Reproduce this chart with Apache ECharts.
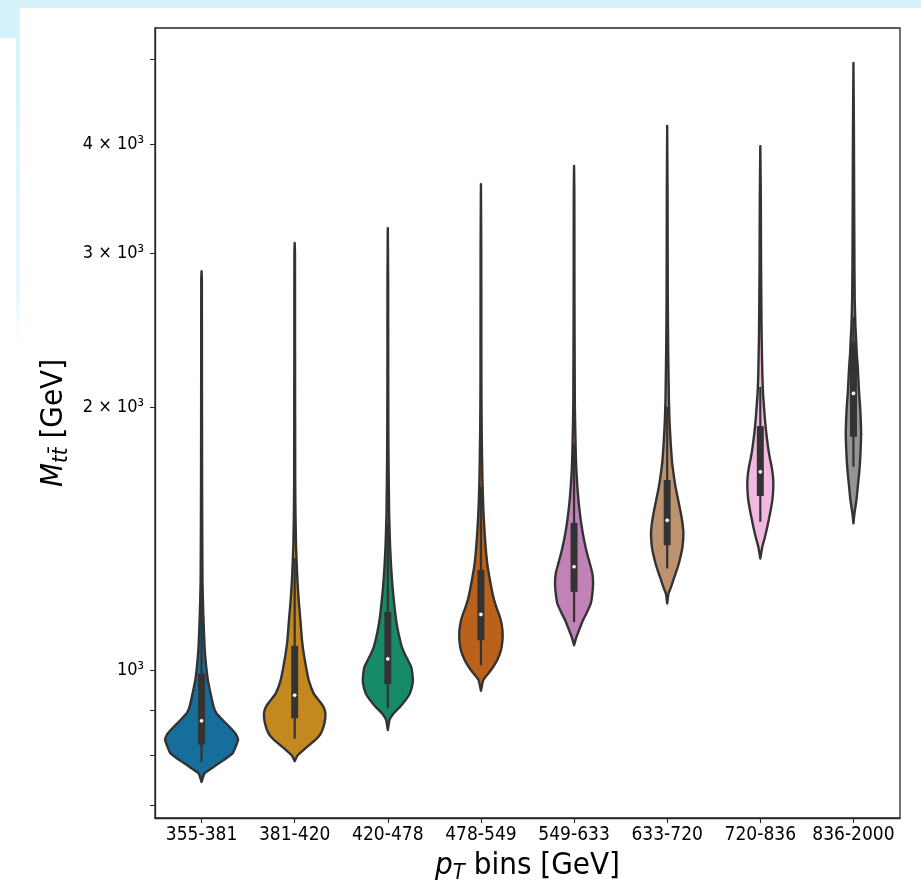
<!DOCTYPE html>
<html>
<head>
<meta charset="utf-8">
<script src="https://cdn.jsdelivr.net/npm/echarts@6/dist/echarts.min.js"></script>
<style>
html,body{margin:0;padding:0;background:#fff;}
#chart{width:921px;height:890px;}
</style>
</head>
<body>
<div id="chart"></div>
<script>
// ---- data ----
const categories = ['355-381','381-420','420-478','478-549','549-633','633-720','720-836','836-2000'];
const fillColors = ['#176d9c','#c38820','#168b6a','#ba611b','#c182b5','#bd926e','#f1b8e0','#949494'];

// box statistics (GeV)
const q1 = [822, 881, 964, 1082, 1229, 1390, 1582, 1849];
const medians = [875, 936, 1030, 1158, 1313, 1484, 1686, 2073];
const q3 = [991, 1066, 1166, 1302, 1474, 1650, 1902, 2375];
const whiskerLow = [785, 835, 904, 1013, 1135, 1307, 1478, 1709];
const whiskerHigh = [1246, 1343, 1469, 1621, 1818, 2001, 2109, 2537];

// density profiles: [M_tt value (GeV), relative density]
const profile1 = [[745,0],[762,0.081],[775,0.323],[789,0.591],[803,0.833],[817,0.914],[833,0.981],[846,0.914],[861,0.753],[877,0.565],[892,0.403],[908,0.323],[932,0.261],[974,0.169],[1018,0.116],[1063,0.081],[1161,0.046],[1268,0.024],[1650,0.014],[2200,0.010],[2800,0.008],[2860,0]];
const profile2 = [[787,0],[799,0.081],[817,0.331],[832,0.556],[846,0.699],[869,0.798],[892,0.825],[908,0.772],[924,0.645],[940,0.511],[974,0.376],[1009,0.304],[1045,0.242],[1082,0.196],[1141,0.153],[1202,0.108],[1268,0.073],[1384,0.037],[1512,0.021],[1650,0.014],[2300,0.010],[3000,0.008],[3081,0]];
const profile3 = [[854,0],[877,0.046],[892,0.153],[908,0.331],[924,0.476],[940,0.591],[966,0.667],[983,0.667],[1009,0.626],[1027,0.538],[1045,0.449],[1063,0.376],[1101,0.288],[1141,0.223],[1181,0.180],[1246,0.126],[1313,0.089],[1384,0.062],[1511,0.035],[1801,0.016],[2147,0.011],[2800,0.009],[3204,0]];
const profile4 = [[947,0],[974,0.062],[991,0.196],[1009,0.331],[1027,0.438],[1054,0.538],[1082,0.578],[1111,0.578],[1141,0.532],[1161,0.476],[1181,0.411],[1213,0.331],[1268,0.242],[1325,0.169],[1384,0.126],[1459,0.089],[1538,0.062],[1650,0.040],[1882,0.020],[2147,0.012],[3000,0.009],[3598,0]];
const profile5 = [[1068,0],[1088,0.054],[1111,0.134],[1141,0.242],[1161,0.331],[1192,0.449],[1224,0.492],[1257,0.511],[1290,0.492],[1325,0.422],[1360,0.349],[1396,0.288],[1434,0.234],[1484,0.180],[1552,0.126],[1621,0.089],[1694,0.062],[1770,0.046],[1932,0.027],[2037,0.020],[2650,0.011],[3500,0.008],[3773,0]];
const profile6 = [[1192,0],[1224,0.035],[1246,0.108],[1279,0.196],[1313,0.288],[1348,0.358],[1384,0.411],[1434,0.435],[1472,0.411],[1511,0.368],[1565,0.296],[1621,0.223],[1679,0.169],[1739,0.126],[1833,0.089],[1932,0.062],[2037,0.046],[2323,0.027],[2650,0.016],[3500,0.010],[4193,0]];
const profile7 = [[1342,0],[1384,0.054],[1421,0.126],[1459,0.188],[1511,0.261],[1565,0.323],[1621,0.349],[1664,0.341],[1709,0.304],[1754,0.250],[1801,0.207],[1866,0.161],[1932,0.126],[2001,0.099],[2073,0.073],[2185,0.054],[2428,0.035],[2894,0.020],[3450,0.014],[3977,0]];
const profile8 = [[1472,0],[1511,0.027],[1565,0.081],[1621,0.116],[1679,0.153],[1739,0.180],[1801,0.196],[1866,0.207],[1932,0.196],[2001,0.180],[2073,0.153],[2147,0.134],[2223,0.116],[2303,0.089],[2385,0.073],[2471,0.054],[2650,0.035],[2894,0.027],[3450,0.019],[4200,0.012],[4949,0]];
const profiles = [profile1, profile2, profile3, profile4, profile5, profile6, profile7, profile8];

// y axis ticks
const yTickValues = [700, 800, 900, 1000, 2000, 3000, 4000, 5000];
const yLabelValues = [1000, 2000, 3000, 4000];
const yLabelTexts = ['10³', '2 × 10³', '3 × 10³', '4 × 10³'];
const yMin = 677.4, yMax = 5428;

// ---- font choice (narrow glyphs like the reference if available) ----
function hasFont(name) {
  const c = document.createElement('canvas').getContext('2d');
  const t = '355-381 bins [GeV] 0123456789';
  c.font = '40px monospace';
  const w1 = c.measureText(t).width;
  c.font = "40px '" + name + "', monospace";
  const w2 = c.measureText(t).width;
  return Math.abs(w1 - w2) > 0.5;
}
const COND = hasFont('DejaVu Sans Condensed');
const FONT = COND ? "'DejaVu Sans Condensed', 'DejaVu Sans', sans-serif" : "'DejaVu Sans', sans-serif";
const TICK_FS = COND ? 19 : 17;
const YTICK_FS = COND ? 18 : 16.5;
const TITLE_FS = COND ? 31 : 28;
const SUB_FS = Math.round(TITLE_FS * 0.7);

// ---- chart ----
const chart = echarts.init(document.getElementById('chart'), null, {renderer: 'canvas'});
const OUTLINE = '#333333';

function renderViolin(params, api) {
  const i = api.value(0);
  const prof = profiles[i];
  const band = api.size([1, 0])[0];
  const half = 0.4 * band;
  const cx = api.coord([i, medians[i]])[0];
  const right = [], left = [];
  for (let k = 0; k < prof.length; k++) {
    const y = api.coord([i, prof[k][0]])[1];
    right.push([cx + prof[k][1] * half, y]);
    left.push([cx - prof[k][1] * half, y]);
  }
  const pts = right.concat(left.reverse());
  const yQ1 = api.coord([i, q1[i]])[1];
  const yQ3 = api.coord([i, q3[i]])[1];
  const yLo = api.coord([i, whiskerLow[i]])[1];
  const yHi = api.coord([i, whiskerHigh[i]])[1];
  const yMed = api.coord([i, medians[i]])[1];
  return {
    type: 'group',
    children: [
      {type: 'polygon', shape: {points: pts, smooth: 0.15},
       style: {fill: fillColors[i], stroke: OUTLINE, lineWidth: 2.4, lineJoin: 'round'}},
      {type: 'line', shape: {x1: cx, y1: yLo, x2: cx, y2: yHi},
       style: {stroke: OUTLINE, lineWidth: 2.2}},
      {type: 'rect', shape: {x: cx - 3.5, y: yQ3, width: 7, height: yQ1 - yQ3},
       style: {fill: OUTLINE}},
      {type: 'circle', shape: {cx: cx, cy: yMed, r: 2.1},
       style: {fill: '#ffffff', stroke: OUTLINE, lineWidth: 0.5}}
    ]
  };
}

const nameRich = {
  it: {fontSize: TITLE_FS, fontStyle: 'italic', fontFamily: FONT, color: '#000'},
  sub: {fontSize: SUB_FS, fontStyle: 'italic', fontFamily: FONT, color: '#000', verticalAlign: 'bottom', padding: [Math.round(TITLE_FS * 0.45), 0, 0, 0]}
};

const option = {
  animation: false,
  backgroundColor: '#ffffff',
  graphic: [
    {type: 'rect', shape: {x: 0, y: 0, width: 921, height: 8}, style: {fill: '#d6f3fc'}, z: -10},
    {type: 'rect', shape: {x: 0, y: 0, width: 20, height: 38}, style: {fill: '#d6f3fc'}, z: -10},
    {type: 'rect', shape: {x: 16, y: 38, width: 4, height: 312},
     style: {fill: new echarts.graphic.LinearGradient(0, 0, 0, 1, [
       {offset: 0, color: '#d6f3fc'}, {offset: 0.8, color: '#e6f8fd'}, {offset: 1, color: '#ffffff'}])}, z: -10}
  ],
  grid: {left: 155, right: 21, top: 28, bottom: 72, show: true, borderColor: '#262626', borderWidth: 1.3, backgroundColor: 'transparent'},
  xAxis: {
    type: 'category',
    data: categories,
    boundaryGap: true,
    axisLine: {show: true, lineStyle: {color: '#262626', width: 1.3}},
    axisTick: {show: true, alignWithLabel: true, length: 5, lineStyle: {color: '#262626', width: 1.1}},
    axisLabel: {color: '#000', fontSize: TICK_FS, fontFamily: FONT, margin: 8, interval: 0},
    splitLine: {show: false},
    name: '{it|p}{sub|T} bins [GeV]',
    nameLocation: 'middle',
    nameGap: 30,
    nameTextStyle: {color: '#000', fontSize: TITLE_FS, fontFamily: FONT, rich: nameRich}
  },
  yAxis: {
    type: 'log',
    logBase: 10,
    min: yMin,
    max: yMax,
    axisLine: {show: true, lineStyle: {color: '#262626', width: 1.3}},
    axisTick: {show: true, length: 5, customValues: yTickValues, lineStyle: {color: '#262626', width: 1}},
    axisLabel: {
      color: '#000', fontSize: YTICK_FS, fontFamily: FONT, margin: 11,
      customValues: yLabelValues,
      formatter: function (v) {
        const k = yLabelValues.findIndex(function (x) { return Math.abs(x - v) < 1e-6 * x; });
        return k >= 0 ? yLabelTexts[k] : '';
      }
    },
    splitLine: {show: false},
    minorTick: {show: false},
    name: '{it|M}{sub|tt\u0304} [GeV]',
    nameLocation: 'middle',
    nameRotate: 90,
    nameGap: 78,
    nameTextStyle: {color: '#000', fontSize: TITLE_FS, fontFamily: FONT, rich: nameRich}
  },
  series: [{
    type: 'custom',
    renderItem: renderViolin,
    clip: false,
    encode: {x: 0, y: 1},
    data: categories.map(function (c, i) { return [i, medians[i]]; })
  }]
};
chart.setOption(option);
</script>
</body>
</html>
